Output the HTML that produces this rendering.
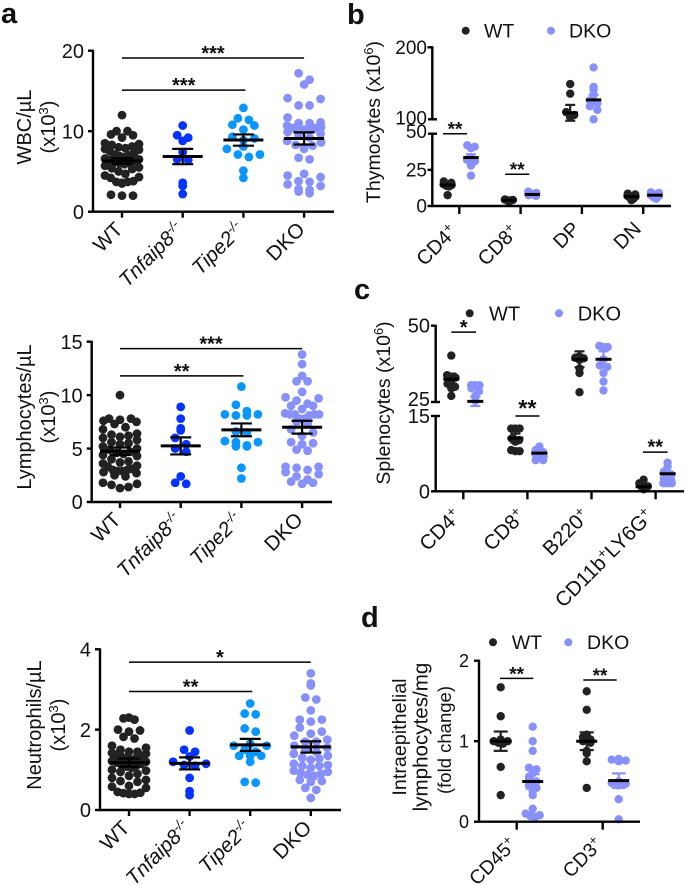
<!DOCTYPE html>
<html lang="en">
<head>
<meta charset="utf-8">
<title>Blood, thymus, spleen and intraepithelial cell counts</title>
<style>
html,body{margin:0;padding:0;background:#fff;width:685px;height:885px;overflow:hidden}
svg{display:block;font-family:"Liberation Sans",Arial,sans-serif}
</style>
</head>
<body>
<svg id="figure" width="685" height="885" viewBox="0 0 685 885" xmlns="http://www.w3.org/2000/svg"></svg>
<script>
/* ---------- data: panel a ---------- */
const genotypeLabels = ["WT", "Tnfaip8", "Tipe2", "DKO"];
const wbcTicks = [0, 10, 20];
const wbcWT = [12,10,10,9.6,9.5,9.2,8.5,8.4,8.3,8.1,8,7.9,7.8,7.7,7.5,7.3,7.1,7,6.9,6.8,6.6,6.5,6.4,6.3,6.2,6.1,6,5.9,5.7,5.5,5.4,5.3,5,4.7,4.5,4.3,4.2,3.8,3.7,3.7,3.6,3.5,2.1,2,2];
const wbcTnfaip8 = [10.7,9.5,9.2,8.8,7.4,6.5,6.4,3.6,3.2,2.2];
const wbcTipe2 = [12.9,11.6,11.4,10.8,10.7,10.2,9.3,9.1,8.9,8.1,7.8,7.1,7.1,6.8,5.1,4.2];
const wbcDKO = [17.2,16.4,15.8,14.1,14,13.2,13.2,11.7,11.1,11,11,10.7,10.5,10.4,10.4,10.3,10.3,10.2,9.9,9.7,9.5,9.2,8.8,8.6,8.3,8.2,8,7.8,6.7,6.5,4.7,4.5,4.3,3.8,3.7,3.4,3.2,2.8,2.7,2.5,2.3];
const wbcMeans = [6.3,6.85,8.9,9.1];
const wbcSem = [0.35,0.95,0.7,0.75];

const lymphTicks = [0, 5, 10, 15];
const lymphWT = [10,7.8,7.8,7.7,7.6,7.5,7.3,7,6.8,6.4,6.3,6.2,6.1,6,5.8,5.6,5.5,5.4,5.2,5,4.9,4.7,4.6,4.5,4.4,4.3,4,3.8,3.7,3.6,3.4,3.3,3.1,3,3,2.9,2.9,2.8,2.7,2.5,2.4,1.8,1.7,1.6,1.4,1.3];
const lymphTnfaip8 = [8.9,7.8,6.9,6.7,6,5.4,5,4.7,2.4,1.8,1.7];
const lymphTipe2 = [10.8,9.1,8.5,8.2,8.2,8.1,8.1,6.6,6.5,5.7,5.6,5.6,5.3,5.2,5.2,3.2,2.2];
const lymphDKO = [13.8,12.9,11.8,11.3,11.3,10.3,9.8,9.7,9.5,9.2,9,9,8.7,8.3,8.2,8.2,8.2,8.2,8.1,7.8,7.8,7.5,7.3,6.8,6.5,6.2,5.6,5.5,5.4,4.9,4.8,3.3,3.3,3.2,3,2.8,2.6,2.4,2.1,1.9,1.8,1.7];
const lymphMeans = [4.75,5.25,6.75,7];
const lymphSem = [0.35,0.8,0.6,0.6];

const neutTicks = [0, 2, 4];
const neutWT = [2.3,2.28,2.25,2,1.98,1.95,1.82,1.78,1.6,1.55,1.5,1.45,1.45,1.42,1.4,1.38,1.35,1.32,1.3,1.28,1.25,1.22,1.2,1.18,1.15,1.12,1.1,1.08,1.05,1,0.98,0.95,0.9,0.85,0.8,0.75,0.72,0.7,0.6,0.58,0.55,0.45,0.43,0.42,0.4,0.4];
const neutTnfaip8 = [1.98,1.5,1.45,1.33,1.2,1.15,1.12,1.1,0.8,0.47,0.37];
const neutTipe2 = [2.65,2.4,2.38,2.03,1.95,1.65,1.6,1.6,1.5,1.45,1.35,1.35,1.35,1.2,0.7,0.68];
const neutDKO = [3.4,3.15,3.1,2.8,2.75,2.48,2.25,2.25,2.2,2.05,1.95,1.9,1.85,1.75,1.7,1.7,1.6,1.55,1.5,1.45,1.4,1.35,1.3,1.28,1.25,1.15,1.12,1.1,1.1,1.05,0.98,0.95,0.92,0.9,0.88,0.85,0.75,0.72,0.7,0.55,0.5,0.3];
const neutMeans = [1.18,1.16,1.62,1.57];
const neutSem = [0.1,0.15,0.15,0.14];

/* ---------- data: panel b ---------- */
const thymusCategories = ["CD4", "CD8", "DP", "DN"];
const thymusWT = [[17,16,15,14.5,14,13.5,7.5],[4.5,4.2,4,3.8,3.5,3],[149,135.6,110,106,104,103],[8.5,8,7,6.5,6,5,4]];
const thymusDKO = [[42,41,40,33,32,31,29,28,21],[10,9,8.5,8,7.5,7],[172,145,141,134,126,122,118,113,100],[9.5,9,8,7.5,7,6,5]];
const thymusMeansWT = [14.5,4,109,6.5];
const thymusSemWT = [1.3,0.4,11,0.6];
const thymusMeansDKO = [33.5,8,127,7.5];
const thymusSemDKO = [2.3,0.5,7,0.6];

/* ---------- data: panel c ---------- */
const spleenCategories = ["CD4", "CD8", "B220", "CD11b"];
const spleenWT = [[40.2,33.8,33,32,31,30,29.5,27],[12.5,12.5,12.5,10.5,10.2,9.9,8.2,8,8],[39.9,39.5,39.3,38.8,36,34.5,28.2],[2.3,1.6,1,0.9,0.8,0.6,0.4]];
const spleenDKO = [[30.5,30.5,30.5,29.5,28.5,27,25.4],[8.9,8.2,7.8,7.5,6.9,6.6,6.2,6.2],[43.4,43,43,39,37,36.5,34.5,31.7,28.8],[5.7,4.9,3.9,3.3,2.6,2.1,1.6,1.6,1.6]];
const spleenMeansWT = [32.5,10.6,39,0.9];
const spleenSemWT = [1.8,0.9,2.6,0.3];
const spleenMeansDKO = [25.2,7.6,39,3.5];
const spleenSemDKO = [1.5,0.4,2.6,0.5];

/* ---------- data: panel d ---------- */
const iepCategories = ["CD45", "CD3"];
const iepTicks = [0, 1, 2];
const iepWT = [[1.67,1.31,1.02,1,1,0.98,0.97,0.68,0.33],[1.62,1.39,1.08,1.05,1.02,1,0.98,0.88,0.85,0.75,0.42]];
const iepDKO = [[1.18,1,0.88,0.67,0.65,0.6,0.55,0.5,0.45,0.42,0.38,0.33,0.16,0.1,0.08,0.07,0.06],[0.78,0.77,0.76,0.75,0.5,0.48,0.47,0.45,0.28,0.03]];
const iepMeansWT = [1,1];
const iepSemWT = [0.12,0.11];
const iepMeansDKO = [0.5,0.51];
const iepSemDKO = [0.09,0.09];

/* ---------- styling ---------- */
const BLACK = "#222222";
const BLUE = "#0433ff";
const SKY = "#0a96ff";
const LILAC = "#8790fb";
const AXIS_W = 2.4;
const svg = document.getElementById("figure");

function make(parent, tag, attrs, name) {
  const node = document.createElementNS("http://www.w3.org/2000/svg", tag);
  for (const k in attrs) node.setAttribute(k, attrs[k]);
  
  
  parent.appendChild(node);
  return node;
}
function line(parent, x1, y1, x2, y2, width, name, color) {
  return make(parent, "line", {x1, y1, x2, y2, stroke: color || "#000", "stroke-width": width}, name);
}
/* segments: strings (plain) or {t, sup, it} */
function label(parent, x, y, segments, opts, name) {
  const o = opts || {};
  const attrs = {x, y, "font-size": o.size || 19, "text-anchor": o.anchor || "start", fill: "#111"};
  if (o.weight) attrs["font-weight"] = o.weight;
  if (o.rotate !== undefined) attrs.transform = "rotate(" + o.rotate + " " + x + " " + y + ")";
  const t = make(parent, "text", attrs, name);
  const size = o.size || 19;
  let raised = false;
  [].concat(segments).forEach(function (s) {
    const seg = typeof s === "string" ? {t: s} : s;
    const span = document.createElementNS("http://www.w3.org/2000/svg", "tspan");
    if (seg.it) span.setAttribute("font-style", "italic");
    if (seg.sup) {
      span.setAttribute("font-size", size * 0.66);
      span.setAttribute("dy", -size * 0.36);
      raised = true;
    } else if (raised) {
      span.setAttribute("dy", size * 0.36);
      raised = false;
    }
    span.textContent = seg.t;
    t.appendChild(span);
  });
  return t;
}
/* Prism-like symmetric binning: values falling in one bin spread sideways */
function swarm(values, yOf, binH, spacing, spread) {
  const bins = new Map();
  values.forEach(function (v, i) {
    const b = Math.round(yOf(v) / binH);
    if (!bins.has(b)) bins.set(b, []);
    bins.get(b).push(i);
  });
  const out = new Array(values.length).fill(0);
  bins.forEach(function (ids) {
    const n = ids.length;
    if (n < 2) return;
    const gap = Math.min(spacing, 2 * spread / (n - 1));
    const slots = [];
    for (let j = 0; j < n; j++) slots.push((j - (n - 1) / 2) * gap);
    slots.sort(function (a, b) { return Math.abs(b) - Math.abs(a) || a - b; });
    ids.forEach(function (id, j) { out[id] = slots[j]; });
  });
  return out;
}
function dots(parent, values, cx, yOf, r, color, binH, spacing, spread, name) {
  const offs = swarm(values, yOf, binH, spacing, spread);
  values.forEach(function (v, i) {
    make(parent, "circle", {cx: cx + offs[i], cy: yOf(v), r, fill: color}, name + "-point");
  });
}
function meanSem(parent, cx, yOf, mean, sem, half, cap, name, errColor) {
  const y = yOf(mean), hi = yOf(mean + sem), lo = yOf(mean - sem);
  line(parent, cx, hi, cx, lo, 2.2, name + "-error-bar", errColor);
  line(parent, cx - cap, hi, cx + cap, hi, 2.2, name + "-error-cap-upper", errColor);
  line(parent, cx - cap, lo, cx + cap, lo, 2.2, name + "-error-cap-lower", errColor);
  line(parent, cx - half, y, cx + half, y, 3, name + "-mean-line");
}
function sigBar(parent, x1, x2, y, stars, name, size, lift) {
  line(parent, x1, y, x2, y, 1.5, name + "-bar");
  label(parent, (x1 + x2) / 2, y - (lift || 10) + 12, stars, {size: size || 20, weight: "bold", anchor: "middle"}, name + "-stars");
}
function xTick(parent, x, y0, len, name) {
  line(parent, x, y0, x, y0 + len, AXIS_W, name + "-tick");
}
function yTick(parent, xAxis, y, text, size, name, labelGap) {
  line(parent, xAxis - 5, y, xAxis, y, AXIS_W, name + "-tick");
  label(parent, xAxis - (labelGap || 9), y + size * 0.36, String(text), {size, anchor: "end"}, name + "-label");
}
function legend(parent, wtDot, dkoDot, wtText, dkoText, cy, size) {
  const g = make(parent, "g", {}, "legend");
  make(g, "circle", {cx: wtDot, cy, r: 4, fill: BLACK}, "legend-wt-marker");
  label(g, wtText, cy + size * 0.35, "WT", {size}, "legend-wt-label");
  make(g, "circle", {cx: dkoDot, cy, r: 4, fill: LILAC}, "legend-dko-marker");
  label(g, dkoText, cy + size * 0.35, "DKO", {size}, "legend-dko-label");
}

/* ---------- panel a: three strip plots ---------- */
function stripPlot(cfg) {
  const g = make(svg, "g", {}, cfg.name);
  const yOf = function (v) { return cfg.y0 - (v / cfg.max) * (cfg.y0 - cfg.yTop); };
  const xOf = function (i) { return cfg.x0 + cfg.dx * i; };
  const colors = [BLACK, BLUE, SKY, LILAC];
  cfg.series.forEach(function (vals, i) {
    dots(g, vals, xOf(i), yOf, 4.4, colors[i], 8.5, 11, 17, cfg.name + "-" + genotypeLabels[i].toLowerCase());
  });
  cfg.means.forEach(function (m, i) {
    meanSem(g, xOf(i), yOf, m, cfg.sem[i], 20, 10.5, cfg.name + "-" + genotypeLabels[i].toLowerCase());
  });
  line(g, cfg.axisX, cfg.yTop - 1, cfg.axisX, cfg.y0 + 1, AXIS_W, cfg.name + "-y-axis");
  line(g, cfg.axisX - 1, cfg.y0, cfg.xEnd, cfg.y0, AXIS_W, cfg.name + "-x-axis");
  cfg.ticks.forEach(function (t) { yTick(g, cfg.axisX, yOf(t), t, 20, cfg.name + "-y-" + t); });
  genotypeLabels.forEach(function (lab, i) {
    xTick(g, xOf(i), cfg.y0, 6, cfg.name + "-x-" + lab.toLowerCase());
    const segs = (i === 1 || i === 2) ? [{t: lab, it: true}, {t: "-/-", sup: true, it: true}] : [lab];
    label(g, xOf(i) + 2, cfg.y0 + 19, segs, {size: 20.5, anchor: "end", rotate: -45}, cfg.name + "-x-label-" + lab.toLowerCase());
  });
  sigBar(g, xOf(0), xOf(3), yOf(cfg.sigHigh), cfg.starsHigh, cfg.name + "-sig-dko");
  sigBar(g, xOf(0), xOf(2) + 2, yOf(cfg.sigLow), cfg.starsLow, cfg.name + "-sig-tipe2");
  label(g, cfg.titleX, cfg.titleY, cfg.title, {size: 20, anchor: "middle", rotate: -90}, cfg.name + "-y-title");
  label(g, cfg.titleX + 24, cfg.titleY, ["(x10", {t: "3", sup: true}, ")"], {size: 20, anchor: "middle", rotate: -90}, cfg.name + "-y-title-unit");
}
stripPlot({name: "wbc-plot", axisX: 93, y0: 211.7, yTop: 50.7, max: 20, x0: 122, dx: 60.7, xEnd: 334,
  series: [wbcWT, wbcTnfaip8, wbcTipe2, wbcDKO], means: wbcMeans, sem: wbcSem, ticks: wbcTicks,
  sigHigh: 19.1, sigLow: 15.1, starsHigh: "***", starsLow: "***", title: "WBC/\u00b5L", titleX: 31, titleY: 127});
stripPlot({name: "lymphocyte-plot", axisX: 91.7, y0: 502, yTop: 341.7, max: 15, x0: 120, dx: 60.7, xEnd: 332,
  series: [lymphWT, lymphTnfaip8, lymphTipe2, lymphDKO], means: lymphMeans, sem: lymphSem, ticks: lymphTicks,
  sigHigh: 14.35, sigLow: 11.8, starsHigh: "***", starsLow: "**", title: "Lymphocytes/\u00b5L", titleX: 31, titleY: 417});
stripPlot({name: "neutrophil-plot", axisX: 100, y0: 810, yTop: 649.3, max: 4, x0: 129, dx: 60.6, xEnd: 341,
  series: [neutWT, neutTnfaip8, neutTipe2, neutDKO], means: neutMeans, sem: neutSem, ticks: neutTicks,
  sigHigh: 3.68, sigLow: 2.95, starsHigh: "*", starsLow: "**", title: "Neutrophils/\u00b5L", titleX: 41, titleY: 725});

/* ---------- broken-axis grouped panels ---------- */
function brokenScale(a) {
  return function (v) {
    if (v <= a.lowMax) return a.y0 - (v / a.lowMax) * (a.y0 - a.lowTop);
    return a.upBase - ((v - a.upMin) / (a.upMax - a.upMin)) * (a.upBase - a.upTop);
  };
}
function groupedPlot(cfg) {
  const g = make(svg, "g", {}, cfg.name);
  const yOf = cfg.yOf;
  const xOf = function (i) { return cfg.x0 + cfg.dx * i; };
  cfg.wt.forEach(function (vals, i) {
    dots(g, vals, xOf(i) - cfg.off, yOf, cfg.r, BLACK, 6, 7.5, cfg.spread, cfg.name + "-wt-" + i);
  });
  cfg.dko.forEach(function (vals, i) {
    dots(g, vals, xOf(i) + cfg.off, yOf, cfg.r, LILAC, 6, 7.5, cfg.spread, cfg.name + "-dko-" + i);
  });
  cfg.wt.forEach(function (vals, i) {
    meanSem(g, xOf(i) - cfg.off, yOf, cfg.meanWT[i], cfg.semWT[i], cfg.half, cfg.cap, cfg.name + "-wt-" + i, BLACK);
    meanSem(g, xOf(i) + cfg.off, yOf, cfg.meanDKO[i], cfg.semDKO[i], cfg.half, cfg.cap, cfg.name + "-dko-" + i, LILAC);
  });
  return {g, xOf};
}

/* panel b */
const thymusAxis = {y0: 206, lowMax: 50, lowTop: 133.7, upMin: 100, upMax: 200, upBase: 119.3, upTop: 47.3};
const thymusY = brokenScale(thymusAxis);
const b = groupedPlot({name: "thymocyte-plot", yOf: thymusY, x0: 459.3, dx: 61.3, off: 11.7, r: 4.2, spread: 4, half: 7.7, cap: 5,
  wt: thymusWT, dko: thymusDKO, meanWT: thymusMeansWT, semWT: thymusSemWT, meanDKO: thymusMeansDKO, semDKO: thymusSemDKO});
line(b.g, 432.3, thymusAxis.upTop - 1, 432.3, thymusAxis.upBase, AXIS_W, "thymocyte-y-axis-upper");
line(b.g, 432.3, thymusAxis.lowTop, 432.3, thymusAxis.y0 + 1, AXIS_W, "thymocyte-y-axis-lower");
line(b.g, 431, thymusAxis.y0, 671, thymusAxis.y0, AXIS_W, "thymocyte-x-axis");
line(b.g, 428, thymusAxis.upBase, 437, thymusAxis.upBase, AXIS_W, "thymocyte-break-upper");
line(b.g, 428, thymusAxis.lowTop, 437, thymusAxis.lowTop, AXIS_W, "thymocyte-break-lower");
[200, 100, 50, 25, 0].forEach(function (t) {
  if (t !== 100 && t !== 50) line(b.g, 427.5, thymusY(t), 432.3, thymusY(t), AXIS_W, "thymocyte-y-tick-" + t);
  label(b.g, 427, thymusY(t) + (t === 100 ? 5 : t === 50 ? 4.5 : 6.5), String(t), {size: 19, anchor: "end"}, "thymocyte-y-label-" + t);
});
thymusCategories.forEach(function (c, i) {
  xTick(b.g, b.xOf(i), thymusAxis.y0, 8, "thymocyte-x-" + c.toLowerCase());
  const segs = i < 2 ? [c, {t: "+", sup: true}] : [c];
  label(b.g, b.xOf(i) - 1, thymusAxis.y0 + (i < 2 ? 27 : 24), segs, {size: 20, anchor: "end", rotate: -45}, "thymocyte-x-label-" + c.toLowerCase());
});
sigBar(b.g, b.xOf(0) - 16.3, b.xOf(0) + 7.7, thymusY(50), "**", "thymocyte-sig-cd4", 19);
sigBar(b.g, b.xOf(1) - 15.4, b.xOf(1) + 8.6, thymusY(22), "**", "thymocyte-sig-cd8", 19);
label(b.g, 380, 122, ["Thymocytes (x10", {t: "6", sup: true}, ")"], {size: 19.5, anchor: "middle", rotate: -90}, "thymocyte-y-title");
legend(b.g, 465.7, 551, 484, 569, 30.7, 19.5);

/* panel c */
const spleenAxis = {y0: 491.3, lowMax: 15, lowTop: 416, upMin: 25, upMax: 50, upBase: 402, upTop: 325.7};
const spleenY = brokenScale(spleenAxis);
const c = groupedPlot({name: "splenocyte-plot", yOf: spleenY, x0: 463.3, dx: 64.1, off: 12, r: 4.2, spread: 4.2, half: 8, cap: 5,
  wt: spleenWT, dko: spleenDKO, meanWT: spleenMeansWT, semWT: spleenSemWT, meanDKO: spleenMeansDKO, semDKO: spleenSemDKO});
line(c.g, 435.7, spleenAxis.upTop - 1, 435.7, spleenAxis.upBase, AXIS_W, "splenocyte-y-axis-upper");
line(c.g, 435.7, spleenAxis.lowTop, 435.7, spleenAxis.y0 + 1, AXIS_W, "splenocyte-y-axis-lower");
line(c.g, 434.5, spleenAxis.y0, 684, spleenAxis.y0, AXIS_W, "splenocyte-x-axis");
line(c.g, 431, spleenAxis.upBase, 440, spleenAxis.upBase, AXIS_W, "splenocyte-break-upper");
line(c.g, 431, spleenAxis.lowTop, 440, spleenAxis.lowTop, AXIS_W, "splenocyte-break-lower");
[50, 25, 15, 0].forEach(function (t) {
  if (t === 50 || t === 0) line(c.g, 431, spleenY(t), 435.7, spleenY(t), AXIS_W, "splenocyte-y-tick-" + t);
  label(c.g, 430, spleenY(t) + (t === 25 ? 4 : t === 15 ? 7 : 7), String(t), {size: 20, anchor: "end"}, "splenocyte-y-label-" + t);
});
const spleenLabelSegs = [["CD4", {t: "+", sup: true}], ["CD8", {t: "+", sup: true}], ["B220", {t: "+", sup: true}], ["CD11b", {t: "+", sup: true}, "LY6G", {t: "+", sup: true}]];
spleenCategories.forEach(function (cat, i) {
  xTick(c.g, c.xOf(i), spleenAxis.y0, 8, "splenocyte-x-" + cat.toLowerCase());
  label(c.g, c.xOf(i) - 1, spleenAxis.y0 + 26, spleenLabelSegs[i], {size: 20.5, anchor: "end", rotate: -45}, "splenocyte-x-label-" + cat.toLowerCase());
});
sigBar(c.g, c.xOf(0) - 12, c.xOf(0) + 12.7, spleenY(47.9), "*", "splenocyte-sig-cd4");
sigBar(c.g, c.xOf(1) - 12, c.xOf(1) + 12, spleenY(15), "**", "splenocyte-sig-cd8", 23.5, 12);
sigBar(c.g, c.xOf(3) - 12.7, c.xOf(3) + 12, spleenY(7.8), "**", "splenocyte-sig-cd11b", 20, 10.5);
label(c.g, 390, 403, ["Splenocytes (x10", {t: "6", sup: true}, ")"], {size: 19.5, anchor: "middle", rotate: -90}, "splenocyte-y-title");
legend(c.g, 469.7, 559, 489, 577.7, 313.3, 20);

/* panel d */
const iepY = function (v) { return 821.7 - v * 80.5; };
const d = groupedPlot({name: "intraepithelial-plot", yOf: iepY, x0: 516.7, dx: 86, off: 16, r: 4.2, spread: 7, half: 10.5, cap: 7,
  wt: iepWT, dko: iepDKO, meanWT: iepMeansWT, semWT: iepSemWT, meanDKO: iepMeansDKO, semDKO: iepSemDKO});
line(d.g, 479, iepY(2) - 1, 479, iepY(0) + 1, AXIS_W, "intraepithelial-y-axis");
line(d.g, 478, iepY(0), 640, iepY(0), AXIS_W, "intraepithelial-x-axis");
iepTicks.forEach(function (t) { yTick(d.g, 479, iepY(t), t, 18, "intraepithelial-y-" + t, 10); });
iepCategories.forEach(function (cat, i) {
  xTick(d.g, d.xOf(i), iepY(0), 8, "intraepithelial-x-" + cat.toLowerCase());
  label(d.g, d.xOf(i) + 1, iepY(0) + 24, [cat, {t: "+", sup: true}], {size: 19.5, anchor: "end", rotate: -45}, "intraepithelial-x-label-" + cat.toLowerCase());
});
sigBar(d.g, d.xOf(0) - 16.7, d.xOf(0) + 16.6, iepY(1.78), "**", "intraepithelial-sig-cd45", 19);
sigBar(d.g, d.xOf(1) - 19.4, d.xOf(1) + 14, iepY(1.76), "**", "intraepithelial-sig-cd3", 19);
label(d.g, 406, 737, "Intraepithelial", {size: 19.7, anchor: "middle", rotate: -90}, "intraepithelial-y-title-line-1");
label(d.g, 427.5, 737, "lymphocytes/mg", {size: 20.6, anchor: "middle", rotate: -90}, "intraepithelial-y-title-line-2");
label(d.g, 451, 740, "(fold change)", {size: 18.5, anchor: "middle", rotate: -90}, "intraepithelial-y-title-line-3");
legend(d.g, 493, 568.3, 511.7, 587, 642.3, 19.5);

/* ---------- panel letters ---------- */
label(svg, 1, 23, "a", {size: 29, weight: "bold"}, "panel-label-a");
label(svg, 347, 24, "b", {size: 29, weight: "bold"}, "panel-label-b");
label(svg, 354, 299, "c", {size: 29, weight: "bold"}, "panel-label-c");
label(svg, 361, 627, "d", {size: 29, weight: "bold"}, "panel-label-d");
</script>
</body>
</html>
